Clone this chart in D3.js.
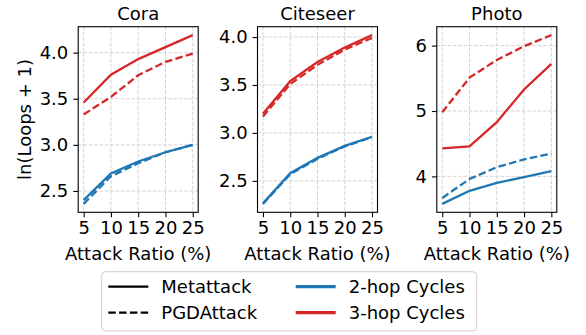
<!DOCTYPE html>
<html><head><meta charset="utf-8">
<script src="https://cdn.jsdelivr.net/npm/d3@7"></script>
<style>body{margin:0;background:#fff}svg{display:block}text{font-family:"DejaVu Sans",sans-serif;fill:#000}</style>
</head><body><svg id="c" width="586" height="335"></svg>
<script>
const ratios = [5, 10, 15, 20, 25];
const datasets = ["Cora", "Citeseer", "Photo"];
// Metattack / PGDAttack, 2-hop / 3-hop cycles: ln(Loops + 1)
const coraMeta2 = [2.40, 2.69, 2.82, 2.92, 3.00];
const coraPGD2  = [2.36, 2.66, 2.80, 2.92, 3.00];
const coraMeta3 = [3.46, 3.76, 3.93, 4.06, 4.19];
const coraPGD3  = [3.33, 3.52, 3.755, 3.90, 3.99];
const citeMeta2 = [2.265, 2.58, 2.74, 2.865, 2.96];
const citePGD2  = [2.26, 2.57, 2.73, 2.86, 2.955];
const citeMeta3 = [3.20, 3.54, 3.74, 3.89, 4.02];
const citePGD3  = [3.17, 3.51, 3.71, 3.87, 3.99];
const photoMeta2 = [3.58, 3.78, 3.90, 3.99, 4.08];
const photoPGD2  = [3.67, 3.96, 4.14, 4.26, 4.35];
const photoMeta3 = [4.43, 4.46, 4.83, 5.33, 5.72];
const photoPGD3  = [4.98, 5.51, 5.78, 5.99, 6.16];
const yTicks = [[2.5, 3.0, 3.5, 4.0], [2.5, 3.0, 3.5, 4.0], [4, 5, 6]];
const yTickFmt = [".1f", ".1f", "d"];
const xTicks = [5, 10, 15, 20, 25];
const seriesByPanel = [
  [coraMeta2, coraPGD2, coraMeta3, coraPGD3],
  [citeMeta2, citePGD2, citeMeta3, citePGD3],
  [photoMeta2, photoPGD2, photoMeta3, photoPGD3]
];
const seriesStyle = [
  {c:"#1f77b4", dash:null}, {c:"#1f77b4", dash:"7.5,3.3"},
  {c:"#d62728", dash:null}, {c:"#d62728", dash:"7.5,3.3"}
];
const legendItems = [
  {label:"Metattack", c:"#000", dash:null, w:2.2},
  {label:"PGDAttack", c:"#000", dash:"7.5,3.3", w:2.2},
  {label:"2-hop Cycles", c:"#1f77b4", dash:null, w:3.2},
  {label:"3-hop Cycles", c:"#d62728", dash:null, w:3.2}
];

const svg = d3.select("#c");
const FS = 18;
const lefts = [78.2, 257.5, 436.8], W = 120, axTop = 26.7, axBot = 212.3;

function pad(ext){ const m = (ext[1]-ext[0])*0.05; return [ext[0]-m, ext[1]+m]; }

datasets.forEach((name, i) => {
  const g = svg.append("g").attr("transform", `translate(${lefts[i]},0)`);
  const x = d3.scaleLinear().domain(pad(d3.extent(ratios))).range([0, W]);
  const all = seriesByPanel[i].flat();
  const y = d3.scaleLinear().domain(pad(d3.extent(all))).range([axBot, axTop]);
  // grid
  g.selectAll(".gx").data(xTicks).join("line")
    .attr("x1", d=>x(d)).attr("x2", d=>x(d)).attr("y1", axTop).attr("y2", axBot)
    .attr("stroke", "#cfcfcf").attr("stroke-width", 0.9).attr("stroke-dasharray", "3.7,1.6");
  g.selectAll(".gy").data(yTicks[i]).join("line")
    .attr("x1", 0).attr("x2", W).attr("y1", d=>y(d)).attr("y2", d=>y(d))
    .attr("stroke", "#cfcfcf").attr("stroke-width", 0.9).attr("stroke-dasharray", "3.7,1.6");
  // lines
  const line = d3.line().x((d,j)=>x(ratios[j])).y(d=>y(d));
  seriesByPanel[i].forEach((s, k) => {
    g.append("path").datum(s).attr("d", line).attr("fill", "none")
      .attr("stroke", seriesStyle[k].c).attr("stroke-width", 2.3)
      .attr("stroke-dasharray", seriesStyle[k].dash);
  });
  // axes
  const xa = g.append("g").attr("transform", `translate(0,${axBot})`)
    .call(d3.axisBottom(x).tickValues(xTicks).tickSize(4.9).tickPadding(4.5).tickFormat(d3.format("d")));
  const ya = g.append("g")
    .call(d3.axisLeft(y).tickValues(yTicks[i]).tickSize(4.9).tickPadding(5).tickFormat(d3.format(yTickFmt[i])));
  [xa, ya].forEach(a => {
    a.select(".domain").remove();
    a.selectAll("line").attr("stroke", "#000").attr("stroke-width", 1.1);
    a.selectAll("text").attr("font-size", FS).style("font-family", "DejaVu Sans").attr("fill", "#000");
  });
  g.append("rect").attr("x", 0).attr("y", axTop).attr("width", W).attr("height", axBot-axTop)
    .attr("fill", "none").attr("stroke", "#000").attr("stroke-width", 1.1);
  g.append("text").attr("x", W/2).attr("y", 19.5).attr("text-anchor", "middle")
    .attr("font-size", FS).text(name);
  g.append("text").attr("x", W/2).attr("y", 259.5).attr("text-anchor", "middle")
    .attr("font-size", FS).text("Attack Ratio (%)");
});

svg.append("text").attr("transform", `translate(30.5,${(axTop+axBot)/2}) rotate(-90)`)
  .attr("text-anchor", "middle").attr("font-size", FS).text("ln(Loops + 1)");

// legend
const lg = svg.append("g");
lg.append("rect").attr("x", 101.7).attr("y", 271.7).attr("width", 375).attr("height", 59.3)
  .attr("rx", 4).attr("fill", "#fff").attr("stroke", "#cccccc").attr("stroke-width", 1);
const colX = [108.3, 295.7], rowY = [286.7, 312.7];
legendItems.forEach((it, k) => {
  const cx = colX[Math.floor(k/2)], cy = rowY[k%2];
  lg.append("line").attr("x1", cx).attr("x2", cx+40).attr("y1", cy).attr("y2", cy)
    .attr("stroke", it.c).attr("stroke-width", it.w).attr("stroke-dasharray", it.dash);
  lg.append("text").attr("x", cx+53).attr("y", cy+6.3).attr("font-size", FS).text(it.label);
});
</script></body></html>
